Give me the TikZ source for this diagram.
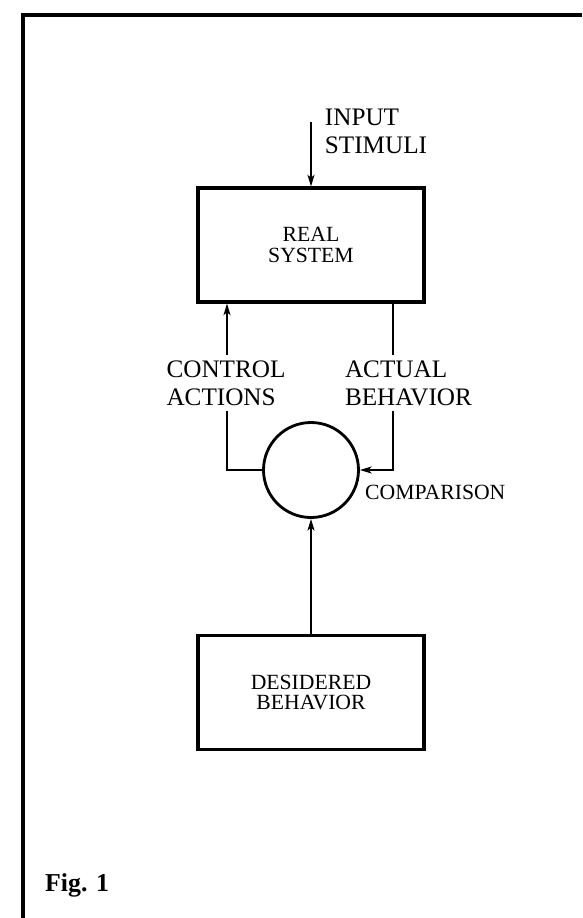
\documentclass[tikz,border=0pt]{standalone}
\usepackage{fontspec}
\setmainfont{Liberation Serif}
\usetikzlibrary{arrows.meta,positioning}

\begin{document}
\begin{tikzpicture}[x=0.03cm, y=-0.03cm,
  every node/.style={font=\fontsize{21.5}{24}\selectfont},
  block/.style={rectangle, draw, line width=2.6pt,
                minimum width=6.78cm, minimum height=3.42cm, align=center,
                font=\fontsize{18.5}{17.5}\selectfont},
  comparator/.style={circle, draw, line width=2.4pt, minimum size=2.85cm},
  arrow/.style={-{Stealth[length=10pt,width=6pt,inset=2.5pt]}, line width=1.2pt},
  tag/.style={align=left, fill=white, inner sep=5pt}]
  \useasboundingbox (0,0) rectangle (582,918);
  % frame of the figure
  \draw[line width=3.4pt] (582,15) -- (23,15) -- (23,918);
  \node[block] (realsys) at (311,245) {REAL\\SYSTEM};
  \node[comparator] (cmp) at (311,470) {};
  \node[block] (desired) at (311,692.5) {DESIDERED\\BEHAVIOR};
  \coordinate (stimuli) at (311,122);
  \coordinate (ctlcorner) at (227,470);
  \coordinate (actcorner) at (393,470);
  \draw[arrow] (stimuli) -- (realsys.north);
  \draw[arrow] (cmp.west) -- (ctlcorner) -- (ctlcorner |- realsys.south);
  \draw[arrow] (actcorner |- realsys.south) -- (actcorner) -- (cmp.east);
  \draw[arrow] (desired.north) -- (cmp.south);
  \node[tag] (ctllabel) at (226,383) {CONTROL\\ACTIONS};
  \node[tag] (actlabel) at (408.5,383) {ACTUAL\\BEHAVIOR};
  \node[align=left, inner sep=0pt] (inlabel) at (376,131) {INPUT\\STIMULI};
  \node[anchor=west, inner sep=0pt, font=\fontsize{18.5}{20}\selectfont]
    (cmplabel) at (365,492) {COMPARISON};
  \node[anchor=base west, inner sep=0pt, font=\fontsize{22}{24}\selectfont\bfseries]
    (figlabel) at (45,891) {Fig. 1};
\end{tikzpicture}
\end{document}
